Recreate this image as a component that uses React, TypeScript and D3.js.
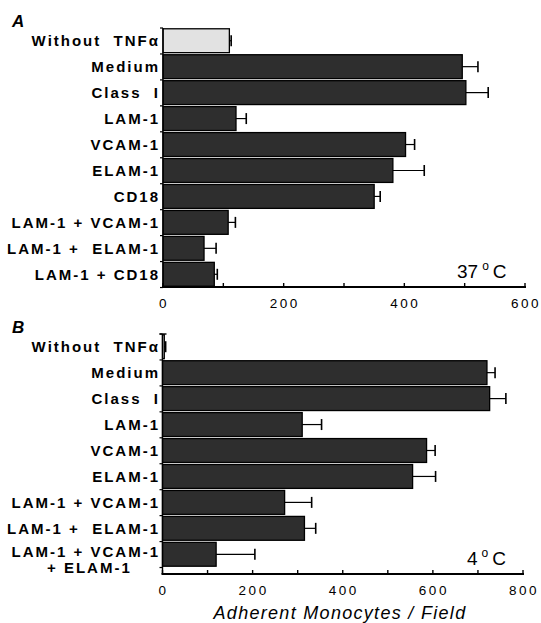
import React from "react";
import * as d3 from "d3";

const categoriesA = ["Without  TNFα", "Medium", "Class  I", "LAM-1", "VCAM-1", "ELAM-1", "CD18", "LAM-1 + VCAM-1", "LAM-1 +  ELAM-1", "LAM-1 + CD18"];
const valuesA = [110, 496, 502, 121, 402, 381, 350, 108, 68, 85];
const errorsA = [3, 26, 37, 17, 15, 52, 10, 12, 20, 5];
const ticksA = [0, 200, 400, 600];
const minorTicksA = [0, 100, 200, 300, 400, 500, 600];

const categoriesB = ["Without  TNFα", "Medium", "Class  I", "LAM-1", "VCAM-1", "ELAM-1", "LAM-1 + VCAM-1", "LAM-1 +  ELAM-1", "LAM-1 + VCAM-1"];
const secondLinesB = ["", "", "", "", "", "", "", "", "+ ELAM-1"];
const valuesB = [4, 720, 726, 310, 586, 555, 271, 315, 119];
const errorsB = [3, 18, 36, 43, 19, 51, 60, 25, 86];
const ticksB = [0, 200, 400, 600, 800];
const minorTicksB = [0, 100, 200, 300, 400, 500, 600, 700, 800];

const FONT = "'Liberation Sans', Arial, Helvetica, sans-serif";

function Panel(props: {
  cats: string[];
  second?: string[];
  vals: number[];
  errs: number[];
  max: number;
  ticks: number[];
  minor: number[];
  x0: number;
  x1: number;
  top: number;
  bandBottom: number;
  axisY: number;
  letter: string;
  temp: string;
  tempX: number;
  capTop?: boolean;
}) {
  const { cats, second, vals, errs, max, ticks, minor, x0, x1, top, bandBottom, axisY } = props;
  const x = d3.scaleLinear().domain([0, max]).range([x0, x1]);
  const y = d3.scaleBand<number>().domain(d3.range(cats.length)).range([top, bandBottom]).paddingInner(0.08).paddingOuter(0.03);
  const step = y.step();
  const bw = y.bandwidth();
  const boundaries = d3.range(cats.length + 1).map((i) => top + i * step);
  return (
    <g>
      <text x={12} y={top - 1} fontFamily={FONT} fontStyle="italic" fontWeight="bold" fontSize={17}>
        {props.letter}
      </text>
      {vals.map((v, i) => (
        <g key={i}>
          <rect
            x={x(0)}
            y={y(i)!}
            width={Math.max(0.5, x(v) - x(0))}
            height={bw}
            fill={i === 0 ? "#e2e2e2" : "#2e2e2e"}
            stroke="#000"
            strokeWidth={1.3}
          />
          <line x1={x(v)} x2={x(v + errs[i])} y1={y(i)! + bw / 2} y2={y(i)! + bw / 2} stroke="#000" strokeWidth={1.2} />
          <line x1={x(v + errs[i])} x2={x(v + errs[i])} y1={y(i)! + bw / 2 - 5.5} y2={y(i)! + bw / 2 + 5.5} stroke="#000" strokeWidth={1.6} />
        </g>
      ))}
      <line x1={x0} x2={x0} y1={top} y2={axisY} stroke="#000" strokeWidth={1.4} />
      {boundaries.map((b, i) => (
        <line key={i} x1={x0 - 3} x2={x0} y1={b} y2={b} stroke="#000" strokeWidth={1.2} />
      ))}
      {props.capTop && <line x1={x0 - 3} x2={x0 + 4} y1={top} y2={top} stroke="#000" strokeWidth={1.4} />}
      <line x1={x0 - 1} x2={x1 + 1} y1={axisY} y2={axisY} stroke="#000" strokeWidth={2} />
      {minor.map((t) => (
        <line key={t} x1={x(t)} x2={x(t)} y1={axisY} y2={axisY - 4} stroke="#000" strokeWidth={1.4} />
      ))}
      {ticks.map((t) => (
        <text key={t} x={x(t) + 1} y={axisY + 21} textAnchor="middle" fontFamily={FONT} fontSize={13.5} letterSpacing={2.5}>
          {t}
        </text>
      ))}
      {cats.map((c, i) => {
        const two = second && second[i];
        return (
          <text
            key={i}
            x={160}
            y={y(i)! + bw / 2 + (two ? 2.5 : 5.5)}
            textAnchor="end"
            fontFamily={FONT}
            fontWeight="bold"
            fontSize={15}
            letterSpacing={2}
            style={{ whiteSpace: "pre" }}
          >
            {c}
          </text>
        );
      })}
      {second &&
        second.map((s, i) =>
          s ? (
            <text key={"s" + i} x={47} y={y(i)! + bw / 2 + 18.5} fontFamily={FONT} fontWeight="bold" fontSize={15} letterSpacing={2}>
              {s}
            </text>
          ) : null
        )}
      <text x={props.tempX} y={axisY - 9} fontFamily={FONT} fontSize={19}>
        {props.temp}
        <tspan fontSize={12} dy={-8} dx={4}>o</tspan>
        <tspan dy={8} dx={4}>C</tspan>
      </text>
    </g>
  );
}

export default function App() {
  return (
    <svg width={541} height={623} style={{ position: "absolute", left: 0, top: 0, background: "#fff" }}>
      <rect width={541} height={623} fill="#fff" />
      <Panel
        cats={categoriesA}
        vals={valuesA}
        errs={errorsA}
        max={600}
        ticks={ticksA}
        minor={minorTicksA}
        x0={163}
        x1={525}
        top={28}
        bandBottom={287}
        axisY={287}
        letter="A"
        temp="37"
        tempX={457}
      />
      <Panel
        cats={categoriesB}
        second={secondLinesB}
        vals={valuesB}
        errs={errorsB}
        max={800}
        ticks={ticksB}
        minor={minorTicksB}
        x0={162.5}
        x1={523}
        top={334}
        bandBottom={567}
        axisY={574}
        letter="B"
        temp="4"
        tempX={467}
        capTop
      />
      <text x={340} y={619} textAnchor="middle" fontFamily={FONT} fontStyle="italic" fontSize={18} letterSpacing={1.3}>
        Adherent Monocytes / Field
      </text>
    </svg>
  );
}
